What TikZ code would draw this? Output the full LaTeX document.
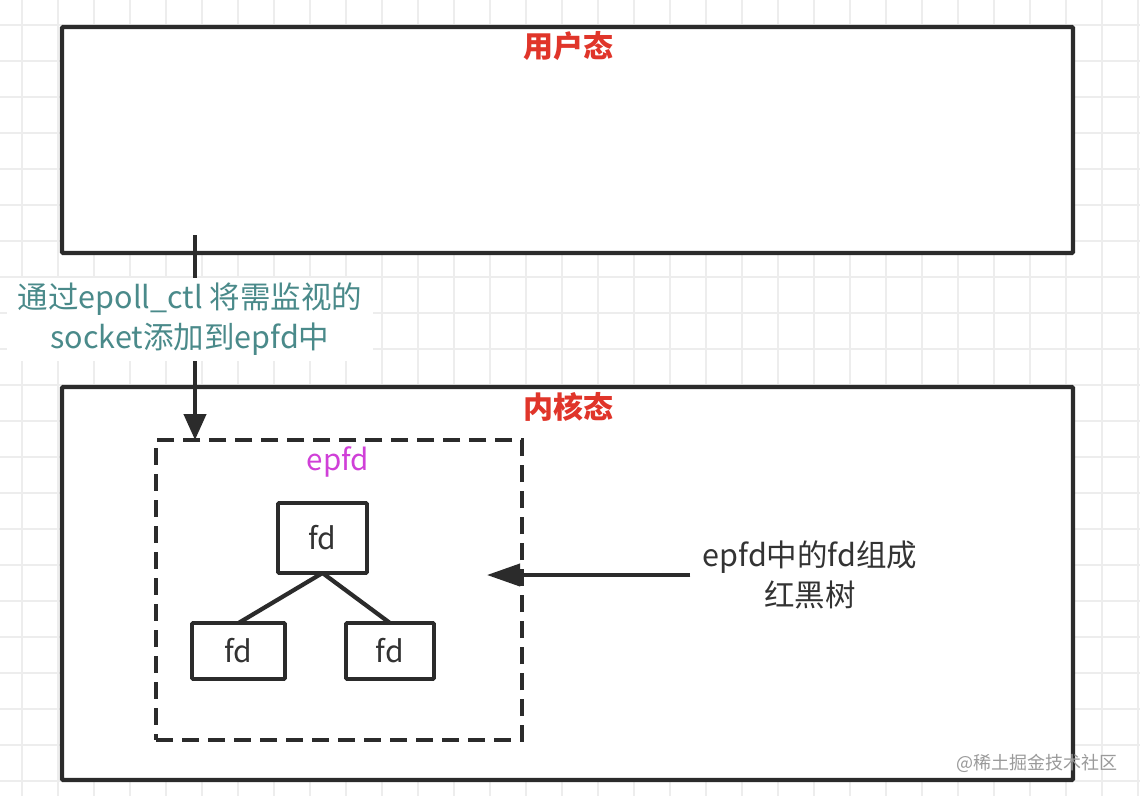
\documentclass[tikz,border=0pt]{standalone}
\usepackage{fontspec}
\setmainfont{Noto Sans CJK SC}
\usetikzlibrary{arrows.meta,calc}
\definecolor{ln}{HTML}{2B2B2B}
\definecolor{gridc}{HTML}{EDEDED}
\definecolor{ttlc}{HTML}{E0352A}
\definecolor{tealc}{HTML}{4A8A8A}
\definecolor{magc}{HTML}{D040D8}
\definecolor{txtc}{HTML}{333333}
\definecolor{wmc}{HTML}{9A9A9A}
\tikzset{
  bigbox/.style={draw=ln, line width=4.2pt, fill=white, rectangle, rounded corners=1pt, outer sep=0pt, inner sep=0pt},
  dashbox/.style={draw=ln, line width=4.2pt, dash pattern=on 17pt off 9pt, rectangle, outer sep=0pt, inner sep=0pt},
  fdbox/.style={draw=ln, line width=3.8pt, fill=white, rectangle, rounded corners=1pt, outer sep=0pt, inner sep=0pt, font=\fontsize{30}{34}\selectfont, text=txtc},
  ttl/.style={text=ttlc, font=\fontsize{30}{36}\selectfont\bfseries, inner sep=0pt},
  note/.style={align=center, font=\fontsize{30.5}{40}\selectfont, inner sep=0pt},
  link/.style={draw=ln, line width=4.2pt},
  arr/.style={draw=ln, line width=4.2pt, -{Triangle[length=26pt,width=22pt]}},
  arrh/.style={draw=ln, line width=3.8pt, -{Triangle[length=33pt,width=22pt]}},
}
\begin{document}
\begin{tikzpicture}[x=1pt,y=-1pt]
\useasboundingbox (0,0) rectangle (1140,796);
\fill[white] (0,0) rectangle (1140,796);
\foreach \i in {0,...,31} \draw[gridc, line width=1.3pt] (22+36*\i,0) -- (22+36*\i,796);
\foreach \j in {0,...,21} \draw[gridc, line width=1.3pt] (0,25+36*\j) -- (1140,25+36*\j);

% main boxes
\node[bigbox, minimum width=1011pt, minimum height=226pt] (user) at (567.5,140) {};
\node[bigbox, minimum width=1011pt, minimum height=393pt] (kernel) at (567.5,583.5) {};
\node[ttl] (usert) at (568,46) {用户态};
\node[ttl] (kernelt) at (568,407) {内核态};

% epfd container
\node[dashbox, minimum width=366pt, minimum height=300pt] (epfd) at (339,590) {};
\node[text=magc, font=\fontsize{29.5}{32}\selectfont, inner sep=0pt] (epfdt) at (338,462) {epfd};

% fd tree
\node[fdbox, minimum width=89pt, minimum height=70pt] (fdt) at (322.5,538) {fd};
\node[fdbox, minimum width=93pt, minimum height=56pt] (fdl) at (238.5,651) {fd};
\node[fdbox, minimum width=88pt, minimum height=56pt] (fdr) at (390,651) {fd};
\draw[link] (fdt.south) -- (fdl.north);
\draw[link] (fdt.south) -- (fdr.north);

% vertical arrow with label
\coordinate (a0) at (195,235);
\draw[arr] (a0) -- (a0 |- epfd.north);
\node[note, text=tealc, fill=white, minimum width=366pt, minimum height=83pt] (addl) at (190,319) {通过epoll\_ctl 将需监视的\\socket添加到epfd中};

% right arrow with label
\node[note, text=txtc, inner xsep=12pt] (rbt) at (810,575) {epfd中的fd组成\\红黑树};
\coordinate (rtip) at (487,575);
\draw[arrh] (rbt.west) -- (rtip);

% watermark
\node[text=wmc, font=\fontsize{18}{22}\selectfont, inner sep=0pt] (wm) at (1037,763) {@稀土掘金技术社区};
\end{tikzpicture}
\end{document}
